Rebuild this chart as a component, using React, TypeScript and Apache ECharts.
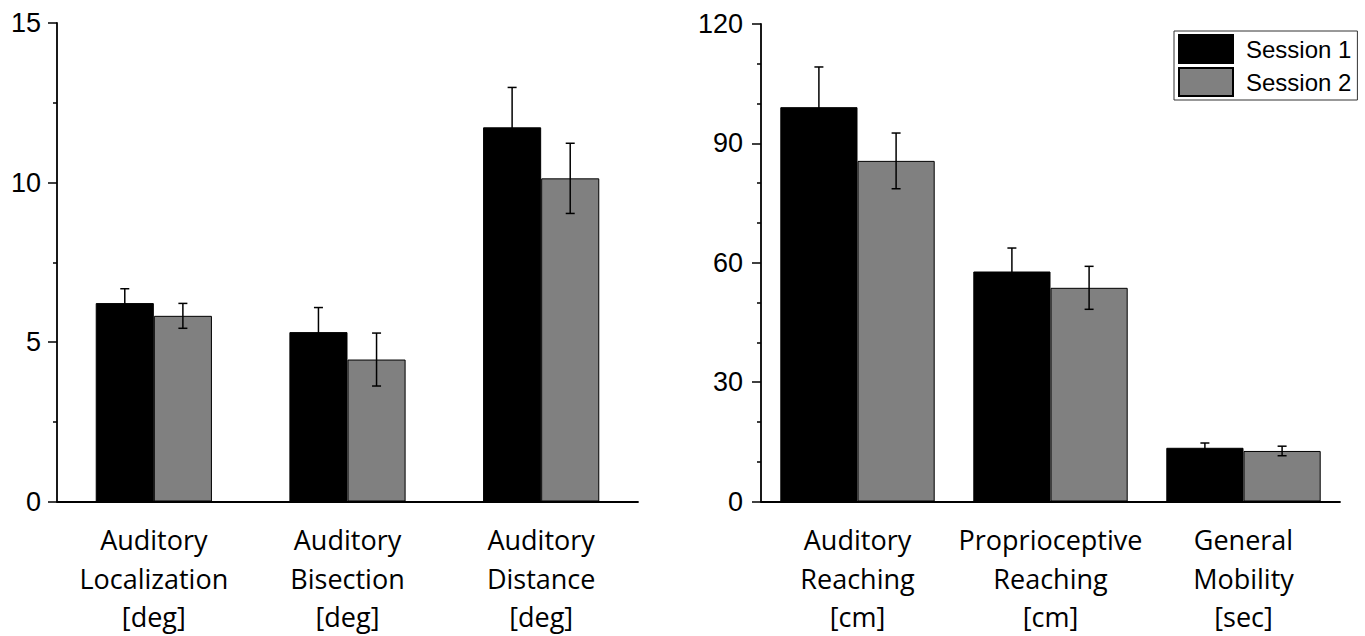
import React, { useEffect, useRef } from "react";
import * as echarts from "echarts";

const leftCategories = [
  "Auditory\nLocalization\n[deg]",
  "Auditory\nBisection\n[deg]",
  "Auditory\nDistance\n[deg]",
];
const leftSession1 = [6.22, 5.31, 11.73];
const leftSession1Err = [0.45, 0.77, 1.25];
const leftSession2 = [5.82, 4.45, 10.13];
const leftSession2Err = [0.39, 0.83, 1.1];

const rightCategories = [
  "Auditory\nReaching\n[cm]",
  "Proprioceptive\nReaching\n[cm]",
  "General\nMobility\n[sec]",
];
const rightSession1 = [99.1, 57.8, 13.5];
const rightSession1Err = [10.1, 5.9, 1.2];
const rightSession2 = [85.6, 53.7, 12.7];
const rightSession2Err = [7.0, 5.4, 1.2];

const seriesNames = ["Session 1", "Session 2"];
const colors = ["#000000", "#808080"];

function errorSeries(
  values: number[],
  errs: number[],
  axisIndex: number,
  offsetFactor: number,
  cap: number
) {
  return {
    type: "custom",
    name: "err" + axisIndex + offsetFactor,
    xAxisIndex: axisIndex,
    yAxisIndex: axisIndex,
    z: 5,
    silent: true,
    encode: { x: 0, y: 1 },
    data: values.map((v, i) => [i, v, errs[i]]),
    renderItem: (params: any, api: any) => {
      const idx = api.value(0);
      const v = api.value(1);
      const e = api.value(2);
      const band = api.size([1, 0])[0];
      const x = api.coord([idx, 0])[0] + offsetFactor * band;
      const yTop = api.coord([idx, v + e])[1];
      const yBot = api.coord([idx, v - e])[1];
      const style = { stroke: "#000", lineWidth: 1.5 };
      return {
        type: "group",
        children: [
          { type: "line", shape: { x1: x, y1: yTop, x2: x, y2: yBot }, style },
          { type: "line", shape: { x1: x - cap, y1: yTop, x2: x + cap, y2: yTop }, style },
          { type: "line", shape: { x1: x - cap, y1: yBot, x2: x + cap, y2: yBot }, style },
        ],
      };
    },
  };
}

export default function App() {
  const ref = useRef<HTMLDivElement>(null);
  useEffect(() => {
    if (!ref.current) return;
    const chart = echarts.init(ref.current, undefined, { renderer: "svg" });
    const yLabel = {
      color: "#000",
      fontSize: 27,
      fontFamily: "'Liberation Sans', Arial, sans-serif",
    };
    const xLabel = {
      color: "#000",
      fontSize: 27,
      lineHeight: 38.5,
      fontFamily: "'Open Sans', sans-serif",
      margin: 19,
      interval: 0,
    };
    const axisLine = { show: true, lineStyle: { color: "#000", width: 1.8 } };
    const barStyle = (i: number) => ({
      color: colors[i],
      borderColor: "#000",
      borderWidth: 1,
    });
    chart.setOption({
      animation: false,
      backgroundColor: "#fff",
      grid: [
        { left: 57, right: 1365 - 638, top: 23, bottom: 636 - 504 },
        { left: 761, right: 1365 - 1340, top: 24, bottom: 636 - 504 },
      ],
      legend: {
        data: seriesNames,
        orient: "vertical",
        left: 1174,
        top: 31,
        itemWidth: 54,
        itemHeight: 28,
        itemGap: 3,
        padding: [3, 6, 3, 4],
        borderColor: "#333",
        borderWidth: 1,
        icon: "rect",
        selectedMode: false,
        textStyle: {
          color: "#000",
          fontSize: 24,
          fontFamily: "'Liberation Sans', Arial, sans-serif",
          padding: [0, 0, 0, 8],
        },
      },
      xAxis: [
        {
          type: "category",
          gridIndex: 0,
          data: leftCategories,
          axisLine,
          axisTick: { show: false },
          axisLabel: xLabel,
        },
        {
          type: "category",
          gridIndex: 1,
          data: rightCategories,
          axisLine,
          axisTick: { show: false },
          axisLabel: xLabel,
        },
      ],
      yAxis: [
        {
          type: "value",
          gridIndex: 0,
          min: 0,
          max: 15,
          interval: 5,
          axisLine,
          axisTick: { show: true, length: 9, lineStyle: { color: "#000", width: 1.5 } },
          minorTick: { show: true, splitNumber: 2, length: 4, lineStyle: { color: "#000", width: 1.5 } },
          splitLine: { show: false },
          axisLabel: { ...yLabel, margin: 16 },
        },
        {
          type: "value",
          gridIndex: 1,
          min: 0,
          max: 120,
          interval: 30,
          axisLine,
          axisTick: { show: true, length: 9, lineStyle: { color: "#000", width: 1.5 } },
          minorTick: { show: true, splitNumber: 3, length: 4, lineStyle: { color: "#000", width: 1.5 } },
          splitLine: { show: false },
          axisLabel: { ...yLabel, margin: 18 },
        },
      ],
      series: [
        {
          type: "bar",
          name: seriesNames[0],
          xAxisIndex: 0,
          yAxisIndex: 0,
          data: leftSession1,
          barGap: "0%",
          barCategoryGap: "40%",
          itemStyle: barStyle(0),
        },
        {
          type: "bar",
          name: seriesNames[1],
          xAxisIndex: 0,
          yAxisIndex: 0,
          data: leftSession2,
          barGap: "0%",
          barCategoryGap: "40%",
          itemStyle: barStyle(1),
        },
        {
          type: "bar",
          name: seriesNames[0],
          xAxisIndex: 1,
          yAxisIndex: 1,
          data: rightSession1,
          barGap: "0%",
          barCategoryGap: "20%",
          itemStyle: barStyle(0),
        },
        {
          type: "bar",
          name: seriesNames[1],
          xAxisIndex: 1,
          yAxisIndex: 1,
          data: rightSession2,
          barGap: "0%",
          barCategoryGap: "20%",
          itemStyle: barStyle(1),
        },
        errorSeries(leftSession1, leftSession1Err, 0, -0.15, 4.5),
        errorSeries(leftSession2, leftSession2Err, 0, 0.15, 4.5),
        errorSeries(rightSession1, rightSession1Err, 1, -0.2, 4.5),
        errorSeries(rightSession2, rightSession2Err, 1, 0.2, 4.5),
      ],
    });
    return () => chart.dispose();
  }, []);
  return (
    <div
      ref={ref}
      style={{ position: "absolute", left: 0, top: 0, width: 1365, height: 636, background: "#fff" }}
    />
  );
}
